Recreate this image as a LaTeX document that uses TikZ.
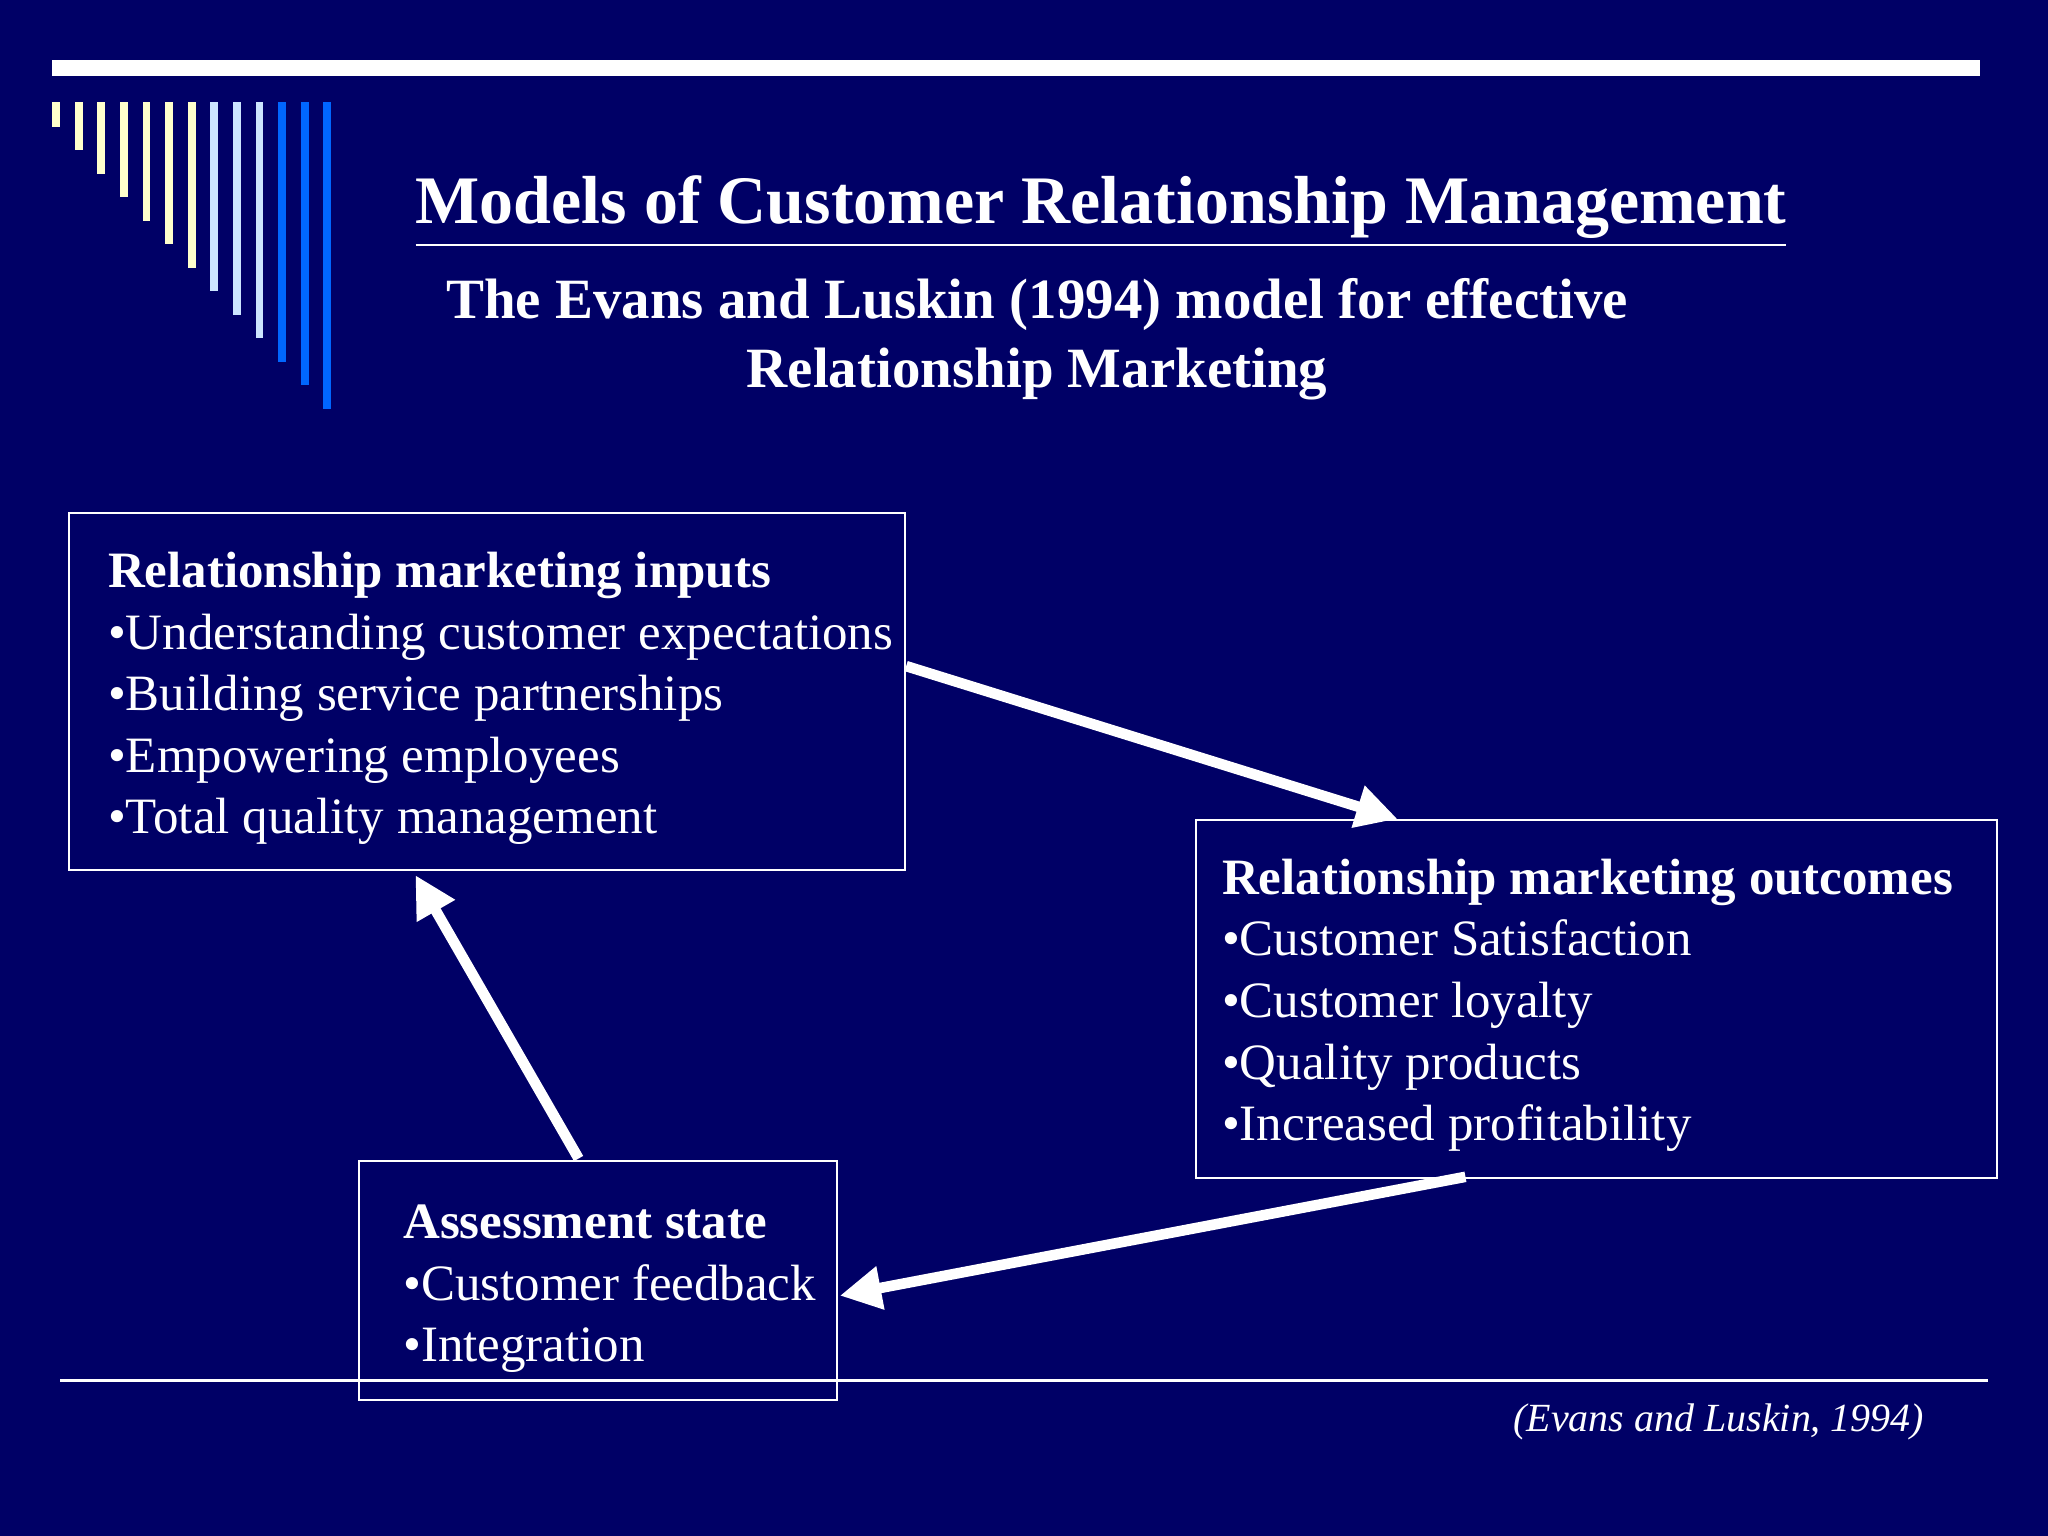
\documentclass[tikz,border=0pt]{standalone}
\usepackage{fontspec}
\setmainfont{Liberation Serif}
\usetikzlibrary{arrows.meta}
\definecolor{bg}{HTML}{000066}
\definecolor{stripeY}{HTML}{FFFFCC}
\definecolor{stripeL}{HTML}{CCE5FF}
\definecolor{stripeB}{HTML}{0066FF}
\begin{document}
\begin{tikzpicture}[x=0.01cm,y=-0.01cm,
  box/.style={draw=white, line width=0.4pt, rectangle, inner sep=0pt, anchor=north west},
  txt/.style={text=white, anchor=north west, align=left, inner sep=0pt,
    font=\fontsize{11.1}{13.4}\selectfont},
  flow/.style={draw=white, line width=2.3pt, -{Triangle[length=9pt,width=9pt]}}]
\fill[bg] (0,0) rectangle (1568,1176);
\useasboundingbox (0,0) rectangle (1568,1176);
% top rule and stripes
\fill[white] (40,46) rectangle (1516,58);
\foreach \i/\c in {0/stripeY,1/stripeY,2/stripeY,3/stripeY,4/stripeY,5/stripeY,6/stripeY,
  7/stripeL,8/stripeL,9/stripeL,10/stripeB,11/stripeB,12/stripeB}
  \fill[\c] ({40+17.3*\i},78) rectangle ({46+17.3*\i},{97+18*\i});
% bottom rule
\draw[white, line width=0.5pt] (46,1057) -- (1522,1057);
% titles
\node[text=white, font=\bfseries\fontsize{14.8}{17}\selectfont] (title) at (843,162)
  {\underline{Models of Customer Relationship Management}};
\node[text=white, align=center, font=\bfseries\fontsize{12.4}{15}\selectfont] (sub) at (794,260)
  {The Evans and Luskin (1994) model for effective\\Relationship Marketing};
% boxes
\node[box, minimum width=6.4cm, minimum height=2.73cm] (in) at (52,392) {};
\node[box, minimum width=6.13cm, minimum height=2.74cm] (out) at (915,627) {};
\node[box, minimum width=3.66cm, minimum height=1.83cm] (as) at (274,888) {};
\node[txt] (intxt) at (82,422) {\textbf{Relationship marketing inputs}\\
  •Understanding customer expectations\\•Building service partnerships\\
  •Empowering employees\\•Total quality management};
\node[txt] (outtxt) at (935,657) {\textbf{Relationship marketing outcomes}\\
  •Customer Satisfaction\\•Customer loyalty\\•Quality products\\•Increased profitability};
\node[txt] (astxt) at (308,922) {\textbf{Assessment state}\\•Customer feedback\\•Integration};
% connectors
\coordinate (a1) at (in.east |- 0,510);
\coordinate (a2) at (1070,627);
\coordinate (b1) at (1122,901);
\coordinate (b2) at (643,992);
\coordinate (c1) at (443,887);
\coordinate (c2) at (318,670);
\draw[flow] (a1) -- (a2);
\draw[flow] (b1) -- (b2);
\draw[flow] (c1) -- (c2);
\node[text=white, font=\itshape\fontsize{8.7}{10}\selectfont] (cite) at (1316,1089) {(Evans and Luskin, 1994)};
\end{tikzpicture}
\end{document}
